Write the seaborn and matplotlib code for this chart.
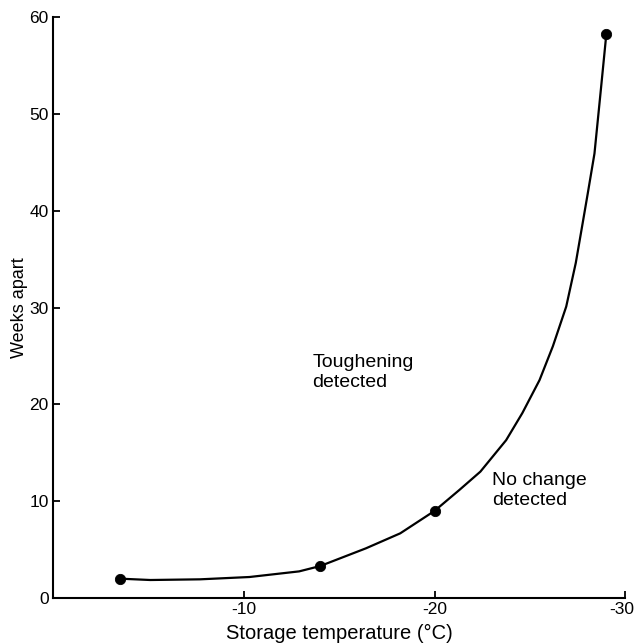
import matplotlib
matplotlib.use("Agg")
import matplotlib.pyplot as plt
import matplotlib.transforms as mtransforms
import seaborn as sns
import pandas as pd

# Measured points
temp_points = [-3.5, -14.0, -20.0, -29.0]
weeks_points = [2.0, 3.3, 9.0, 58.2]

# Curve
curve_temp = [-3.5, -5.1, -7.7, -10.3, -12.9, -14.0, -16.4, -18.2, -20.0, -21.3,
              -22.4, -23.75, -24.6, -25.5, -26.2, -26.9, -27.4, -27.76, -28.03,
              -28.38, -28.73, -29.0]
curve_weeks = [2.0, 1.86, 1.93, 2.17, 2.75, 3.3, 5.13, 6.68, 9.0, 11.16,
               13.05, 16.3, 19.1, 22.5, 26.0, 30.1, 34.6, 38.7, 41.8,
               45.9, 52.8, 58.2]

x_ticks = [-10, -20, -30]
y_ticks = [0, 10, 20, 30, 40, 50, 60]

sns.set_style("ticks")
plt.rcParams['font.family'] = ['Liberation Sans', 'DejaVu Sans']
plt.rcParams['text.color'] = 'black'
plt.rcParams['axes.labelcolor'] = 'black'

fig = plt.figure(figsize=(6.36, 6.44), dpi=100)
ax = fig.add_axes([0.0833, 0.0714, 0.900, 0.9022])

curve_df = pd.DataFrame({"t": curve_temp, "w": curve_weeks})
pts_df = pd.DataFrame({"t": temp_points, "w": weeks_points})

sns.lineplot(data=curve_df, x="t", y="w", sort=False, color="black", lw=1.6, ax=ax)
sns.scatterplot(data=pts_df, x="t", y="w", color="black", s=55, edgecolor="black", zorder=5, ax=ax)

ax.set_xlim(0, -30)
ax.set_ylim(0, 60)
ax.set_xticks(x_ticks)
ax.set_xticklabels([str(v) for v in x_ticks])
ax.set_yticks(y_ticks)
ax.tick_params(direction="in", length=5, width=1.3, labelsize=12.5, colors="black", pad=3)
for s in ["left", "bottom"]:
    ax.spines[s].set_linewidth(1.5)
    ax.spines[s].set_color("black")
sns.despine(ax=ax)

# keep the last x label inside the figure
last = ax.get_xticklabels()[-1]
last.set_transform(last.get_transform() + mtransforms.ScaledTranslation(-4 / 100, 0, fig.dpi_scale_trans))

ax.set_xlabel("Storage temperature (°C)", fontsize=14.5, labelpad=5)
ax.set_ylabel("Weeks apart", fontsize=13, labelpad=1)

ax.text(-13.6, 25.2, "Toughening\ndetected", fontsize=14, ha="left", va="top", linespacing=1.25)
ax.text(-23.0, 13.0, "No change\ndetected", fontsize=14, ha="left", va="top", linespacing=1.25)

fig.savefig("out.png", dpi=100)
